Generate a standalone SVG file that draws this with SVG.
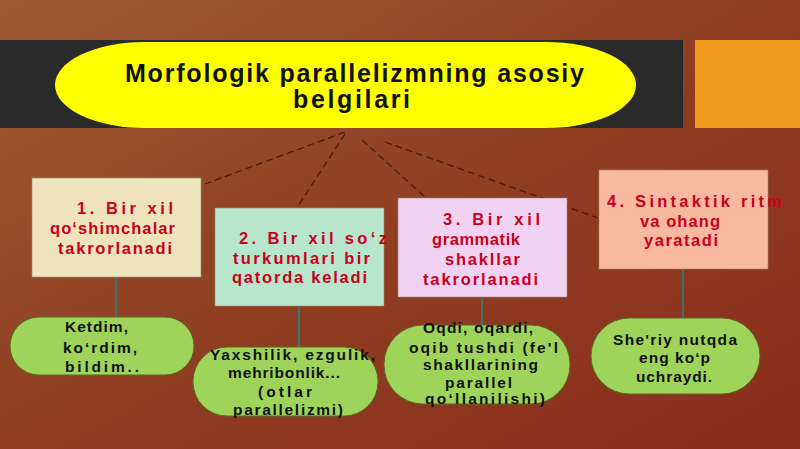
<svg xmlns="http://www.w3.org/2000/svg" width="800" height="449" viewBox="0 0 800 449">
<defs>
<linearGradient id="bg" x1="0" y1="0" x2="1" y2="1">
<stop offset="0" stop-color="#a05a36"/>
<stop offset="0.5" stop-color="#8f3e22"/>
<stop offset="1" stop-color="#8a2c1c"/>
</linearGradient>
<style>
.box{stroke:#9a8a70;stroke-width:0.6}
.bt{font-family:"Liberation Sans",Arial,sans-serif;font-size:16.5px;font-weight:bold;fill:#c8001e}
.ot{font-family:"Liberation Sans",Arial,sans-serif;font-size:15.5px;font-weight:bold;fill:#111}
.tt{font-family:"Liberation Sans",Arial,sans-serif;font-size:25px;font-weight:bold;fill:#111}
.oval{fill:#9fd45a;stroke:#5a6a20;stroke-width:1}
.dash{stroke:#4a1a10;stroke-width:1.3;stroke-dasharray:7 4;fill:none}
.vl{stroke:#1a8a80;stroke-width:1.5;fill:none}
</style>
</defs>
<rect width="800" height="449" fill="url(#bg)"/>
<rect x="0" y="40" width="683" height="88" fill="#2a2a2a"/>
<rect x="695" y="40" width="105" height="88" fill="#f39a1e"/>
<g id="title">
<rect x="55" y="42" width="581" height="86" rx="90" ry="43" fill="#ffff00"/>
<text class="tt" x="125" y="82" textLength="459" lengthAdjust="spacing">Morfologik parallelizmning asosiy</text>
<text class="tt" x="293" y="108" textLength="117" lengthAdjust="spacing">belgilari</text>
</g>
<g id="connectors">
<path class="dash" d="M345 132 L205 184"/>
<path class="dash" d="M345 134 L298 206"/>
<path class="dash" d="M362 140 L425 197"/>
<path class="dash" d="M385 142 L598 218"/>
<path class="vl" d="M116 278 V317"/>
<path class="vl" d="M299 307 V347"/>
<path class="vl" d="M482 298 V325"/>
<path class="vl" d="M683 270 V318"/>
</g>
<g id="box1">
<rect class="box" x="32" y="178" width="169" height="99" fill="#eee3bd"/>
<text class="bt" x="77" y="214" textLength="96" lengthAdjust="spacing">1.  Bir xil</text>
<text class="bt" x="50" y="234" textLength="125" lengthAdjust="spacing">qo‘shimchalar</text>
<text class="bt" x="58" y="254" textLength="114" lengthAdjust="spacing">takrorlanadi</text>
</g>
<g id="box2">
<rect class="box" x="215" y="208" width="169" height="98" fill="#b8e6cc"/>
<text class="bt" x="239" y="244" textLength="148" lengthAdjust="spacing">2.  Bir xil so‘z</text>
<text class="bt" x="233" y="264" textLength="137" lengthAdjust="spacing">turkumlari bir</text>
<text class="bt" x="232" y="283" textLength="135" lengthAdjust="spacing">qatorda keladi</text>
</g>
<g id="box3">
<rect class="box" x="398" y="198" width="169" height="99" fill="#f2d2f2"/>
<text class="bt" x="443" y="225" textLength="97" lengthAdjust="spacing">3.  Bir xil</text>
<text class="bt" x="432" y="245" textLength="88" lengthAdjust="spacing">grammatik</text>
<text class="bt" x="445" y="265" textLength="75" lengthAdjust="spacing">shakllar</text>
<text class="bt" x="423" y="285" textLength="115" lengthAdjust="spacing">takrorlanadi</text>
</g>
<g id="box4">
<rect class="box" x="599" y="170" width="169" height="99" fill="#f8b9a0"/>
<text class="bt" x="607" y="207" textLength="175" lengthAdjust="spacing">4.  Sintaktik ritm</text>
<text class="bt" x="640" y="227" textLength="80" lengthAdjust="spacing">va ohang</text>
<text class="bt" x="644" y="246" textLength="74" lengthAdjust="spacing">yaratadi</text>
</g>
<g id="oval1">
<rect class="oval" x="10" y="317" width="184" height="58" rx="29" ry="29"/>
<text class="ot" x="65" y="332" textLength="63" lengthAdjust="spacing">Ketdim,</text>
<text class="ot" x="63" y="353" textLength="74" lengthAdjust="spacing">ko‘rdim,</text>
<text class="ot" x="65" y="372" textLength="74" lengthAdjust="spacing">bildim..</text>
</g>
<g id="oval2">
<rect class="oval" x="193" y="347" width="185" height="69" rx="34" ry="34"/>
<text class="ot" x="210" y="360" textLength="165" lengthAdjust="spacing">Yaxshilik, ezgulik,</text>
<text class="ot" x="228" y="378" textLength="112" lengthAdjust="spacing">mehribonlik...</text>
<text class="ot" x="258" y="397" textLength="54" lengthAdjust="spacing">(otlar</text>
<text class="ot" x="233" y="415" textLength="110" lengthAdjust="spacing">parallelizmi)</text>
</g>
<g id="oval3">
<rect class="oval" x="384" y="325" width="186" height="79" rx="39" ry="39"/>
<text class="ot" x="423" y="333" textLength="110" lengthAdjust="spacing">Oqdi, oqardi,</text>
<text class="ot" x="409" y="353" textLength="149" lengthAdjust="spacing">oqib tushdi (fe'l</text>
<text class="ot" x="423" y="370" textLength="115" lengthAdjust="spacing">shakllarining</text>
<text class="ot" x="445" y="388" textLength="67" lengthAdjust="spacing">parallel</text>
<text class="ot" x="425" y="404" textLength="120" lengthAdjust="spacing">qo‘llanilishi)</text>
</g>
<g id="oval4">
<rect class="oval" x="591" y="318" width="169" height="76" rx="38" ry="38"/>
<text class="ot" x="613" y="345" textLength="124" lengthAdjust="spacing">She'riy nutqda</text>
<text class="ot" x="639" y="363" textLength="71" lengthAdjust="spacing">eng ko‘p</text>
<text class="ot" x="636" y="382" textLength="76" lengthAdjust="spacing">uchraydi.</text>
</g>
</svg>
